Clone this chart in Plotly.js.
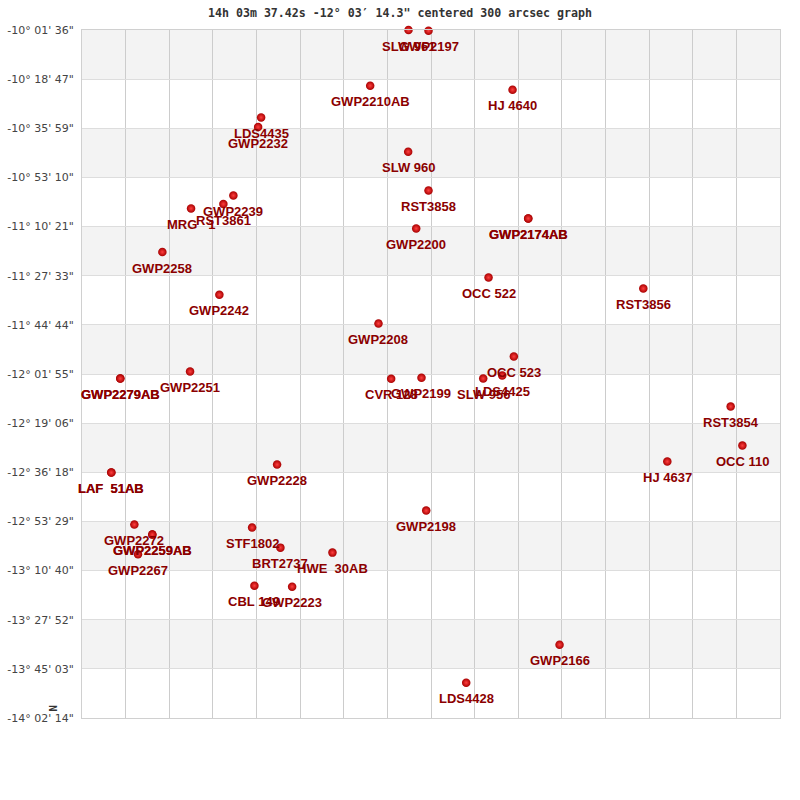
<!DOCTYPE html>
<html>
<head>
<meta charset="utf-8">
<script src="https://cdn.plot.ly/plotly-3.0.1.min.js"></script>
<style>html,body{margin:0;padding:0;background:#fff;}#chart{width:800px;height:800px;}</style>
</head>
<body>
<div id="chart"></div>
<script>
// Star names (labels), horizontal position in grid columns, declination in degrees
const names = [
  "SLW 961", "GWP2197", "GWP2210AB", "HJ 4640", "LDS4435", "GWP2232", "SLW 960",
  "RST3858", "GWP2239", "RST3861", "MRG   1", "GWP2174AB", "GWP2174AB", "GWP2200",
  "GWP2258", "OCC 522", "RST3856", "GWP2242", "GWP2208", "OCC 523", "GWP2251",
  "LDS4425", "GWP2199", "SLW 956", "GWP2279AB", "GWP2279AB", "CVR 128", "RST3854",
  "OCC 110", "HJ 4637", "GWP2228", "LAF  51AB", "LAF  51AB", "GWP2198", "GWP2272",
  "STF1802", "GWP2259AB", "GWP2259AB", "BRT2737", "HWE  30AB", "GWP2267", "CBL 149",
  "GWP2223", "GWP2166", "LDS4428"
];
const xPos = [
  7.484, 7.943, 6.606, 9.869, 4.106, 4.037, 7.477,
  7.943, 3.470, 3.241, 2.500, 10.229, 10.229, 7.661,
  1.842, 9.319, 12.867, 3.149, 6.796, 9.899, 2.477,
  9.633, 7.782, 9.197, 0.878, 0.878, 7.087, 14.869,
  15.138, 13.417, 4.472, 0.672, 0.672, 7.890, 1.200,
  3.899, 1.612, 1.612, 4.548, 5.741, 1.284, 3.952,
  4.817, 10.947, 8.807
];
const decDeg = [
  -10.0268, -10.0307, -10.3515, -10.3748, -10.5364, -10.5924, -10.7364,
  -10.9621, -10.9913, -11.0414, -11.0671, -11.1254, -11.1254, -11.1837,
  -11.3213, -11.4695, -11.5336, -11.5703, -11.7377, -11.9302, -12.0177,
  -12.0410, -12.0544, -12.0585, -12.0585, -12.0585, -12.0602, -12.2218,
  -12.4492, -12.5425, -12.5600, -12.6067, -12.6067, -12.8283, -12.9099,
  -12.9274, -12.9682, -12.9682, -13.0441, -13.0732, -13.0825, -13.2657,
  -13.2715, -13.6098, -13.8314
];
const yTickLabels = [
  "-10° 01' 36\"", "-10° 18' 47\"", "-10° 35' 59\"", "-10° 53' 10\"", "-11° 10' 21\"",
  "-11° 27' 33\"", "-11° 44' 44\"", "-12° 01' 55\"", "-12° 19' 06\"", "-12° 36' 18\"",
  "-12° 53' 29\"", "-13° 10' 40\"", "-13° 27' 52\"", "-13° 45' 03\"", "-14° 02' 14\""
];
const titleText = "14h 03m 37.42s -12° 03′ 14.3\" centered 300 arcsec graph";

function parseDms(s) {
  const m = s.match(/(-?)(\d+)°\s*(\d+)'\s*(\d+)"/);
  const v = (+m[2]) + (+m[3]) / 60 + (+m[4]) / 3600;
  return m[1] === "-" ? -v : v;
}
const yTickVals = yTickLabels.map(parseDms);
const yMin = Math.min.apply(null, yTickVals), yMax = Math.max.apply(null, yTickVals);

const shapes = [];
for (let i = 0; i + 1 < yTickVals.length; i += 2) {
  shapes.push({type: "rect", xref: "paper", yref: "y", x0: 0, x1: 1,
    y0: yTickVals[i + 1], y1: yTickVals[i], fillcolor: "#f3f3f3",
    line: {width: 0}, layer: "below"});
}

const labelFont = {family: "Liberation Sans, Arial, sans-serif", size: 13, color: "#8b0000", weight: "bold"};
const annotations = names.map((n, i) => ({
  text: n.replace(/ /g, "\u00a0"), x: xPos[i], y: decDeg[i], xref: "x", yref: "y",
  showarrow: false, xanchor: "center", yanchor: "middle", yshift: -16,
  font: labelFont, borderpad: 0
}));
annotations.push({text: "N", xref: "paper", yref: "paper", x: -0.0415, y: 0.0145,
  xanchor: "center", yanchor: "middle", showarrow: false, textangle: 90,
  font: {family: "DejaVu Sans Mono, monospace", size: 11, color: "#333", weight: "bold"}});

const trace = {
  type: "scatter", mode: "markers",
  x: xPos, y: decDeg,
  marker: {size: 8.5, color: "#a80000", line: {width: 0},
    gradient: {type: "radial", color: "#ff4040"}},
  cliponaxis: false, hoverinfo: "skip"
};

const layout = {
  width: 800, height: 800,
  margin: {l: 82, r: 20, t: 30, b: 82},
  paper_bgcolor: "#ffffff", plot_bgcolor: "#ffffff",
  showlegend: false,
  title: {text: titleText, x: 0.5, xref: "container", xanchor: "center",
    y: 0.984, yref: "container", yanchor: "middle",
    font: {family: "DejaVu Sans Mono, monospace", size: 11.6, color: "#333", weight: "bold"}},
  xaxis: {range: [0, 16], dtick: 1, tick0: 0, showticklabels: false, ticks: "",
    showgrid: true, gridcolor: "#cccccc", gridwidth: 1, zeroline: false,
    showline: true, mirror: true, linecolor: "#d0d0d0", linewidth: 1, fixedrange: true},
  yaxis: {range: [yMin, yMax], tickmode: "array", tickvals: yTickVals, ticktext: yTickLabels,
    ticks: "", ticklabelstandoff: 5,
    tickfont: {family: "DejaVu Sans, sans-serif", size: 11, color: "#444"},
    showgrid: true, gridcolor: "#dddddd", gridwidth: 1, zeroline: false,
    showline: true, mirror: true, linecolor: "#d0d0d0", linewidth: 1, fixedrange: true},
  shapes: shapes,
  annotations: annotations
};

Plotly.newPlot("chart", [trace], layout, {staticPlot: true, displayModeBar: false});
</script>
</body>
</html>
